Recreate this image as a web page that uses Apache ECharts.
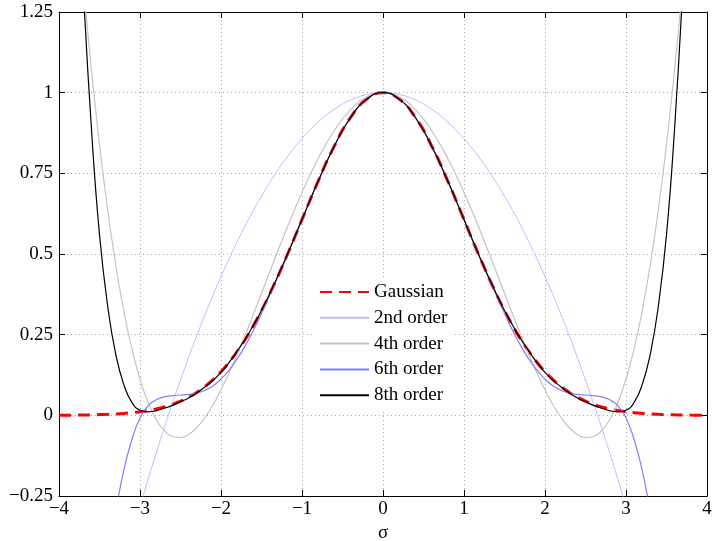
<!DOCTYPE html>
<html>
<head>
<meta charset="utf-8">
<script src="https://cdn.jsdelivr.net/npm/echarts@6/dist/echarts.min.js"></script>
<style>html,body{margin:0;padding:0;background:#fff}#chart{width:712px;height:541px}</style>
</head>
<body>
<div id="chart"></div>
<script>
// sample positions (sigma)
const xs = [-4,-3.9,-3.8,-3.7,-3.6,-3.5,-3.4,-3.3,-3.2,-3.1,-3,-2.9,-2.8,-2.7,-2.6,-2.5,-2.4,-2.3,-2.2,-2.1,-2,-1.9,-1.8,-1.7,-1.6,-1.5,-1.4,-1.2,-1,-0.8,-0.6,-0.4,-0.2,0,0.2,0.4,0.6,0.8,1,1.2,1.4,1.5,1.6,1.7,1.8,1.9,2,2.1,2.2,2.3,2.4,2.5,2.6,2.7,2.8,2.9,3,3.1,3.2,3.3,3.4,3.5,3.6,3.7,3.8,3.9,4];

const gaussian = [0.0003,0.0005,0.0007,0.0011,0.0015,0.0022,0.0031,0.0043,0.0060,0.0082,0.0111,0.0149,0.0198,0.0261,0.0340,0.0439,0.0561,0.0710,0.0889,0.1103,0.1353,0.1645,0.1979,0.2357,0.2780,0.3247,0.3753,0.4868,0.6065,0.7261,0.8353,0.9231,0.9802,1,0.9802,0.9231,0.8353,0.7261,0.6065,0.4868,0.3753,0.3247,0.2780,0.2357,0.1979,0.1645,0.1353,0.1103,0.0889,0.0710,0.0561,0.0439,0.0340,0.0261,0.0198,0.0149,0.0111,0.0082,0.0060,0.0043,0.0031,0.0022,0.0015,0.0011,0.0007,0.0005,0.0003];

const order2 = [null,null,null,null,null,null,null,null,null,-0.3694,-0.2825,-0.1984,-0.1172,-0.0388,0.0367,0.1094,0.1792,0.2462,0.3103,0.3716,0.43,0.4856,0.5383,0.5882,0.6352,0.6794,0.7207,0.7948,0.8575,0.9088,0.9487,0.9772,0.9943,1,0.9943,0.9772,0.9487,0.9088,0.8575,0.7948,0.7207,0.6794,0.6352,0.5882,0.5383,0.4856,0.43,0.3716,0.3103,0.2462,0.1792,0.1094,0.0367,-0.0388,-0.1172,-0.1984,-0.2825,-0.3694,null,null,null,null,null,null,null,null,null];

const order4 = [null,null,null,1.339,1.0718,0.839,0.638,0.4671,0.3237,0.2059,0.1119,0.0395,-0.0130,-0.0475,-0.0656,-0.0691,-0.0595,-0.0385,-0.0075,0.0321,0.0790,0.1317,0.1892,0.2502,0.3136,0.3783,0.4435,0.5715,0.6909,0.7962,0.8828,0.9472,0.9868,1,0.9868,0.9472,0.8828,0.7962,0.6909,0.5715,0.4435,0.3783,0.3136,0.2502,0.1892,0.1317,0.0790,0.0321,-0.0075,-0.0385,-0.0595,-0.0691,-0.0656,-0.0475,-0.0130,0.0395,0.1119,0.2059,0.3237,0.4671,0.638,0.839,1.0718,1.339,null,null,null];

const order6 = [null,null,null,null,null,null,null,-0.30,-0.17,-0.075,-0.008,0.030,0.048,0.057,0.061,0.063,0.065,0.069,0.077,0.091,0.112,0.140,0.175,0.216,0.263,0.316,0.372,0.486,0.606,0.726,0.835,0.923,0.980,1,0.980,0.923,0.835,0.726,0.606,0.486,0.372,0.316,0.263,0.216,0.175,0.140,0.112,0.091,0.077,0.069,0.065,0.063,0.061,0.057,0.048,0.030,-0.008,-0.075,-0.17,-0.30,null,null,null,null,null,null,null];

const order8 = [null,null,null,1.32,0.89,0.56,0.34,0.19,0.095,0.040,0.016,0.011,0.014,0.022,0.031,0.042,0.054,0.069,0.088,0.108,0.133,0.164,0.199,0.237,0.279,0.325,0.376,0.487,0.607,0.726,0.835,0.923,0.980,1,0.980,0.923,0.835,0.726,0.607,0.487,0.376,0.325,0.279,0.237,0.199,0.164,0.133,0.108,0.088,0.069,0.054,0.042,0.031,0.022,0.014,0.011,0.016,0.040,0.095,0.19,0.34,0.56,0.89,1.32,null,null,null];

const seriesNames = ['Gaussian','2nd order','4th order','6th order','8th order'];
const xTicks = [-4,-3,-2,-1,0,1,2,3,4];
const xTickLabels = ['\u22124','\u22123','\u22122','\u22121','0','1','2','3','4'];
const yTicks = [-0.25,0,0.25,0.5,0.75,1,1.25];
const yTickLabels = ['\u22120.25','0','0.25','0.5','0.75','1','1.25'];
const xName = '\u03c3';

function pairs(ys){ return xs.map((x,i)=>[x,ys[i]]).filter(p=>p[1]!==null); }
function lookup(ticks, labels, v){
  for (let i=0;i<ticks.length;i++){ if (Math.abs(ticks[i]-v)<1e-9) return labels[i]; }
  return '';
}

const FONT = '"Liberation Serif","DejaVu Serif",serif';
const chart = echarts.init(document.getElementById('chart'), null, {renderer:'canvas'});

const axisCommon = {
  axisLine:{show:true,onZero:false,lineStyle:{color:'#000',width:1}},
  axisTick:{show:true,inside:true,length:6,lineStyle:{color:'#000',width:1}}
};

const styles = [
  {color:'#ff0000', width:3, type:[12,7], z:2},
  {color:'#bcbcff', width:1, type:'solid', z:3},
  {color:'#c4c4c4', width:1.2, type:'solid', z:4},
  {color:'#7f7fff', width:1.2, type:'solid', z:5},
  {color:'#000000', width:1.2, type:'solid', z:6}
];
const dataSets = [gaussian, order2, order4, order6, order8];

chart.setOption({
  animation:false,
  backgroundColor:'#fff',
  textStyle:{fontFamily:FONT},
  grid:{left:59,right:5,top:12,bottom:45,containLabel:false,outerBoundsMode:'none'},
  legend:{
    orient:'vertical', left:315, top:279,
    backgroundColor:'#fff', padding:[3,6,4,4],
    itemWidth:49, itemHeight:14, itemGap:5.8,
    itemStyle:{opacity:0},
    textStyle:{fontFamily:FONT,fontSize:19,color:'#000',lineHeight:20},
    data:seriesNames
  },
  xAxis:[
    Object.assign({type:'value',min:-4,max:4,interval:1,position:'bottom',
      name:xName,nameLocation:'middle',nameGap:26,
      nameTextStyle:{fontFamily:FONT,fontSize:19,color:'#000'},
      axisLabel:{fontFamily:FONT,fontSize:19,color:'#000',margin:4,
        formatter:v=>lookup(xTicks,xTickLabels,v)},
      splitLine:{show:true,lineStyle:{color:'#a8a8a8',type:[1,3],width:1}}
    }, axisCommon),
    Object.assign({type:'value',min:-4,max:4,interval:1,position:'top',
      axisLabel:{show:false}, splitLine:{show:false}}, axisCommon)
  ],
  yAxis:[
    Object.assign({type:'value',min:-0.25,max:1.25,interval:0.25,position:'left',
      axisLabel:{fontFamily:FONT,fontSize:19,color:'#000',margin:6,
        formatter:v=>lookup(yTicks,yTickLabels,v)},
      splitLine:{show:true,lineStyle:{color:'#a8a8a8',type:[1,3],width:1}}
    }, axisCommon),
    Object.assign({type:'value',min:-0.25,max:1.25,interval:0.25,position:'right',
      axisLabel:{show:false}, splitLine:{show:false}}, axisCommon)
  ],
  series: seriesNames.map((n,i)=>({
    name:n, type:'line', xAxisIndex:0, yAxisIndex:0,
    data:pairs(dataSets[i]), smooth:true, symbol:'none', showSymbol:false,
    clip:true, z:styles[i].z,
    lineStyle:{color:styles[i].color,width:styles[i].width,type:styles[i].type},
    itemStyle:{color:styles[i].color},
    emphasis:{disabled:true}
  }))
});
</script>
</body>
</html>
